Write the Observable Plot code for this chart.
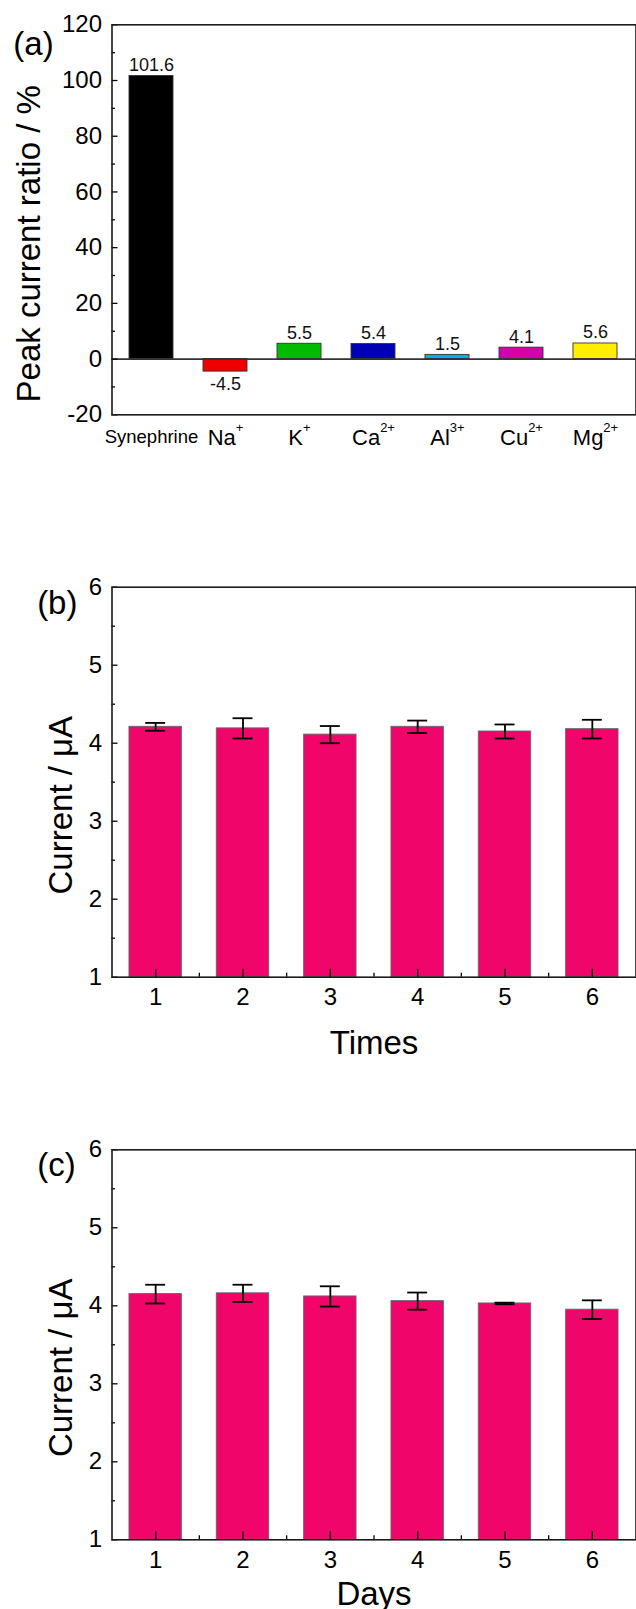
<!DOCTYPE html>
<html>
<head>
<meta charset="utf-8">
<script src="https://cdn.jsdelivr.net/npm/d3@7"></script>
<script src="https://cdn.jsdelivr.net/npm/@observablehq/plot@0.6"></script>
<style>
  html, body { margin: 0; padding: 0; background: #fff; }
  #chart svg { display: block; }
</style>
</head>
<body>
<div id="chart"></div>
<script>
// ---------- Panel (a): selectivity ----------
const ions = ["Synephrine", "Na", "K", "Ca", "Al", "Cu", "Mg"];
const charges = ["", "+", "+", "2+", "3+", "2+", "2+"];
const ratios = [101.6, -4.5, 5.5, 5.4, 1.5, 4.1, 5.6];
const barColors = ["#000000", "#EE0000", "#00BB00", "#0000B4", "#00AEEF", "#D600A8", "#FFEE00"];
const yMajorA = [-20, 0, 20, 40, 60, 80, 100, 120];
const yMinorA = [-10, 10, 30, 50, 70, 90, 110];
const yLabelA = "Peak current ratio / %";

// ---------- Panel (b): repeatability ----------
const runs = [1, 2, 3, 4, 5, 6];
const repeatMean = [4.21, 4.19, 4.11, 4.21, 4.15, 4.18];
const repeatErr = [0.05, 0.13, 0.11, 0.08, 0.09, 0.12];

// ---------- Panel (c): stability ----------
const days = [1, 2, 3, 4, 5, 6];
const stabMean = [4.15, 4.16, 4.12, 4.06, 4.03, 3.95];
const stabErr = [0.12, 0.11, 0.13, 0.11, 0.01, 0.12];

const yMajorBC = [1, 2, 3, 4, 5, 6];
const yMinorBC = [1.5, 2.5, 3.5, 4.5, 5.5];
const xMajorBC = [1, 2, 3, 4, 5, 6];
const xMinorBC = [1.5, 2.5, 3.5, 4.5, 5.5];
const yLabelBC = "Current / μA";
const pink = "#F0056A";

const font = "'Liberation Sans', Arial, Helvetica, sans-serif";
const baseStyle = {fontFamily: font, color: "#000", background: "#fff", overflow: "visible"};
const W = 636, ML = 111.5, MR = 0.5;
const plain = d => String(d);

const dataA = ions.map((ion, i) => ({ion, ratio: ratios[i], color: barColors[i]}));

const panelA = Plot.plot({
  width: W, height: 470,
  marginTop: 24.3, marginBottom: 55.7, marginLeft: ML, marginRight: MR,
  style: baseStyle,
  x: {type: "band", domain: ions, paddingInner: 0.4, paddingOuter: 0.2},
  y: {domain: [-20, 120]},
  color: {type: "identity"},
  marks: [
    Plot.barY(dataA, {x: "ion", y: "ratio", fill: "color", stroke: "#333", strokeWidth: 0.9}),
    Plot.ruleY([0], {stroke: "#333", strokeWidth: 1.6}),
    Plot.text(dataA.filter(d => d.ratio >= 0), {x: "ion", y: "ratio", text: d => d.ratio.toFixed(1), lineAnchor: "bottom", dy: -5, fontSize: 18, fill: "#111"}),
    Plot.text(dataA.filter(d => d.ratio < 0), {x: "ion", y: "ratio", text: d => d.ratio.toFixed(1), lineAnchor: "top", dy: 6, fontSize: 18, fill: "#111"}),
    Plot.axisY(yMajorA, {tickSize: -6, tickPadding: 16, fontSize: 24, label: null, strokeWidth: 1.3, tickFormat: plain}),
    Plot.axisY(yMinorA, {tickSize: -3.5, tickFormat: () => "", label: null, strokeWidth: 1.3}),
    Plot.axisX({tickSize: 0, tickPadding: 15, fontSize: 22, label: null}),
    Plot.frame({stroke: "#1a1a1a", strokeWidth: 1.6}),
    Plot.text([yLabelA], {text: d => d, frameAnchor: "left", textAnchor: "middle", lineAnchor: "middle", rotate: -90, dx: -82.5, dy: 24, fontSize: 33}),
    Plot.text(["(a)"], {text: d => d, frameAnchor: "top-left", dx: -78.5, dy: 19.7, fontSize: 33, textAnchor: "middle", lineAnchor: "middle"})
  ]
});

// superscript charges on the ion tick labels
const svgNS = "http://www.w3.org/2000/svg";
panelA.querySelectorAll('[aria-label="x-axis tick label"] text').forEach(t => {
  const i = ions.indexOf(t.textContent);
  if (i < 0) return;
  if (i === 0) t.setAttribute("font-size", "18.5");
  if (charges[i]) {
    const ts = document.createElementNS(svgNS, "tspan");
    ts.textContent = charges[i];
    ts.setAttribute("font-size", "13");
    ts.setAttribute("dy", "-13");
    t.appendChild(ts);
  }
});

function currentPanel({xs, means, errs, height, marginTop, marginBottom, title, titleDx, titleDy, xLabel, xLabelDy}) {
  const data = xs.map((x, i) => ({x, m: means[i], e: errs[i]}));
  const halfBar = 0.3, halfCap = 0.114, base = yMajorBC[0];
  return Plot.plot({
    width: W, height,
    marginTop, marginBottom, marginLeft: ML, marginRight: MR,
    style: baseStyle,
    x: {domain: [0.5, 6.5]},
    y: {domain: [1, 6]},
    marks: [
      Plot.rectY(data, {x1: d => d.x - halfBar, x2: d => d.x + halfBar, y1: base, y2: "m", fill: pink, stroke: "#666", strokeWidth: 0.9}),
      Plot.ruleX(data, {x: "x", y1: d => d.m - d.e, y2: d => d.m + d.e, stroke: "#000", strokeWidth: 1.8}),
      Plot.ruleY(data, {y: d => d.m + d.e, x1: d => d.x - halfCap, x2: d => d.x + halfCap, stroke: "#000", strokeWidth: 1.8}),
      Plot.ruleY(data, {y: d => d.m - d.e, x1: d => d.x - halfCap, x2: d => d.x + halfCap, stroke: "#000", strokeWidth: 1.8}),
      Plot.axisY(yMajorBC, {tickSize: -6, tickPadding: 16, fontSize: 24, label: null, strokeWidth: 1.3, tickFormat: plain}),
      Plot.axisY(yMinorBC, {tickSize: -3.5, tickFormat: () => "", label: null, strokeWidth: 1.3}),
      Plot.axisX(xMajorBC, {tickSize: -8, tickPadding: 19, fontSize: 24, label: null, strokeWidth: 1.3, tickFormat: plain}),
      Plot.axisX(xMinorBC, {tickSize: -4, tickFormat: () => "", label: null, strokeWidth: 1.3}),
      Plot.frame({stroke: "#1a1a1a", strokeWidth: 1.6}),
      Plot.text([yLabelBC], {text: d => d, frameAnchor: "left", textAnchor: "middle", lineAnchor: "middle", rotate: -90, dx: -50.7, dy: 23, fontSize: 33}),
      Plot.text([xLabel], {text: d => d, frameAnchor: "bottom", lineAnchor: "top", dy: xLabelDy, fontSize: 33}),
      Plot.text([title], {text: d => d, frameAnchor: "top-left", dx: titleDx, dy: titleDy, fontSize: 33, textAnchor: "middle", lineAnchor: "middle"})
    ]
  });
}

const panelB = currentPanel({xs: runs, means: repeatMean, errs: repeatErr, height: 610, marginTop: 116.7, marginBottom: 103.3,
  title: "(b)", titleDx: -54.7, titleDy: 16.3, xLabel: "Times", xLabelDy: 53});
const panelC = currentPanel({xs: days, means: stabMean, errs: stabErr, height: 529, marginTop: 69.3, marginBottom: 69.7,
  title: "(c)", titleDx: -55.5, titleDy: 15.7, xLabel: "Days", xLabelDy: 42});

document.getElementById("chart").append(panelA, panelB, panelC);
</script>
</body>
</html>
